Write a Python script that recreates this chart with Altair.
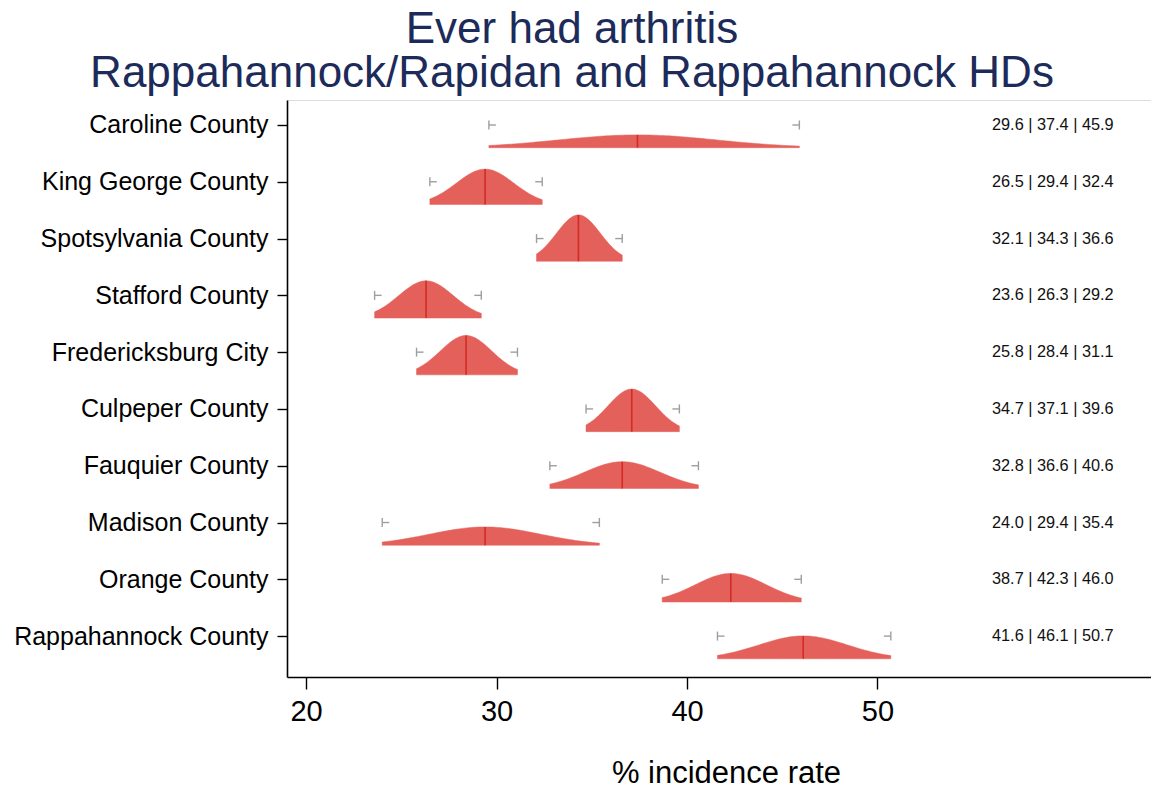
import json
import numpy as np
import altair as alt

counties = ["Caroline County", "King George County", "Spotsylvania County",
            "Stafford County", "Fredericksburg City", "Culpeper County",
            "Fauquier County", "Madison County", "Orange County",
            "Rappahannock County"]
lo = [29.6, 26.5, 32.1, 23.6, 25.8, 34.7, 32.8, 24.0, 38.7, 41.6]
mean = [37.4, 29.4, 34.3, 26.3, 28.4, 37.1, 36.6, 29.4, 42.3, 46.1]
hi = [45.9, 32.4, 36.6, 29.2, 31.1, 39.6, 40.6, 35.4, 46.0, 50.7]

# sampling grid (fraction of CI width) for drawing each density curve
grid = [round(float(v), 4) for v in np.linspace(0, 1, 101)]

FONT = "Liberation Sans"
FILL = "#e4605a"
LINE = "#d42b24"
GREY = "#9aa0a0"
BASE_OFF = 0.40   # baseline of each density below its category line (rows)
HSCALE = 2.35     # density height scaling (rows per unit density)

rows = [dict(county=c, row=i, lo=l, mean=m, hi=h)
        for i, (c, l, m, h) in enumerate(zip(counties, lo, mean, hi))]
base = alt.Data(values=rows)

xscale = alt.Scale(domain=[19.0, 64.36], nice=False, zero=False)
yscale = alt.Scale(domain=[-0.44, 9.72], nice=False, zero=False, reverse=True)

label_expr = json.dumps(counties) + "[datum.value]"

xaxis = alt.Axis(values=[20, 30, 40, 50], grid=False, tickSize=12,
                 labelFontSize=29, labelPadding=8, labelFont=FONT,
                 labelColor="black", domainColor="black", tickColor="black",
                 domainWidth=1.6, tickWidth=1.4,
                 title="% incidence rate", titleFontSize=31, titleFont=FONT,
                 titleFontWeight="normal", titleColor="black",
                 titleX=439, titleY=105, titleBaseline="alphabetic")
yaxis = alt.Axis(values=list(range(10)), labelExpr=label_expr, grid=False,
                 tickSize=10, labelFontSize=25, labelPadding=9, labelFont=FONT,
                 labelColor="black", domainColor="black", tickColor="black",
                 domainWidth=1.6, tickWidth=1.4, title=None, labelLimit=400)

dens = alt.Chart(alt.Data(values=[dict(r, t=grid) for r in rows])).transform_flatten(
    ["t"]
).transform_calculate(
    sd="(datum.hi - datum.lo) / 3.92",
    x="datum.lo + datum.t * (datum.hi - datum.lo)",
).transform_calculate(
    pdf="exp(-0.5 * pow((datum.x - datum.mean) / datum.sd, 2)) / (datum.sd * sqrt(2 * PI))",
    ybase=f"datum.row + {BASE_OFF}",
).transform_calculate(
    ytop=f"datum.ybase - datum.pdf * {HSCALE}"
).mark_area(color=FILL, opacity=1, stroke=FILL, strokeWidth=0.5).encode(
    x=alt.X("x:Q", scale=xscale, axis=xaxis),
    y=alt.Y("ybase:Q", scale=yscale, axis=yaxis),
    y2="ytop:Q",
    detail="county:N",
)

meanline = alt.Chart(base).transform_calculate(
    sd="(datum.hi - datum.lo) / 3.92",
).transform_calculate(
    ybase=f"datum.row + {BASE_OFF}",
    ypk=f"datum.row + {BASE_OFF} - {HSCALE} / (datum.sd * sqrt(2 * PI))",
).mark_rule(color=LINE, strokeWidth=1.6).encode(
    x=alt.X("mean:Q", scale=xscale),
    y=alt.Y("ybase:Q", scale=yscale),
    y2="ypk:Q",
)

def whisker(field, arm):
    v = alt.Chart(base).mark_rule(color=GREY, strokeWidth=1.4,
                                  yOffset=-4.5, y2Offset=4.5).encode(
        x=alt.X(f"{field}:Q", scale=xscale),
        y=alt.Y("row:Q", scale=yscale),
        y2="row:Q",
    )
    h = alt.Chart(base).mark_rule(color=GREY, strokeWidth=1.4,
                                  x2Offset=arm).encode(
        x=alt.X(f"{field}:Q", scale=xscale),
        x2=f"{field}:Q",
        y=alt.Y("row:Q", scale=yscale),
    )
    return v + h

labels = alt.Chart(base).transform_calculate(
    lab="format(datum.lo, '.1f') + ' | ' + format(datum.mean, '.1f') + ' | ' + format(datum.hi, '.1f')"
).mark_text(align="left", baseline="middle", fontSize=16.3, font=FONT,
            color="#111111").encode(
    x=alt.value(705),
    y=alt.Y("row:Q", scale=yscale),
    text="lab:N",
)

chart = alt.layer(
    dens, meanline, whisker("lo", 7), whisker("hi", -7), labels
).properties(
    width=864, height=577,
    autosize=alt.AutoSizeParams(type="none"),
    padding={"left": 279, "top": 92, "right": 0, "bottom": 112},
    title=alt.TitleParams(
        text=["Ever had arthritis", "Rappahannock/Rapidan and Rappahannock HDs"],
        fontSize=44, font=FONT, fontWeight="normal", color="#1c2b59",
        anchor="middle", frame="group", dx=-147, dy=44, baseline="alphabetic",
        offset=13, lineHeight=44,
    ),
).configure_view(strokeWidth=0).configure(background="white")

chart.save("out.html", embed_options={"renderer": "svg", "actions": False})
